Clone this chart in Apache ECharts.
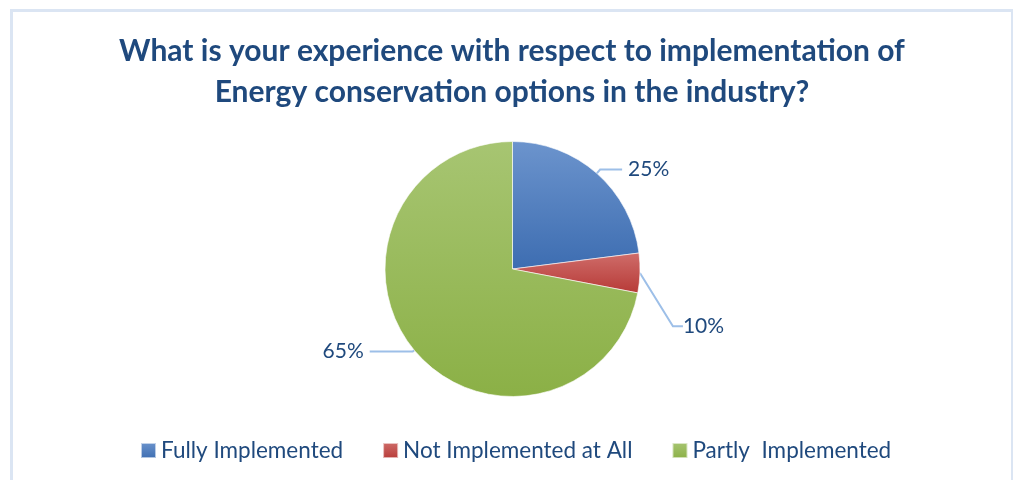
<!DOCTYPE html>
<html>
<head>
<meta charset="utf-8">
<script src="https://cdn.jsdelivr.net/npm/echarts@6/dist/echarts.min.js"></script>
<style>
  html, body { margin: 0; padding: 0; background: #fff; }
  #chart { width: 1013px; height: 480px; position: absolute; left: 0; top: 0; }
  #frame { position: absolute; left: 10px; top: 9px; width: 998px; height: 500px;
           border: 3px solid #dbe5f3; pointer-events: none; }
</style>
</head>
<body>
<div id="chart"></div>
<div id="frame"></div>
<script>

// answers and their share of the pie
var categories = ['Fully Implemented', 'Not Implemented at All', 'Partly  Implemented'];
var values = [23, 5, 72];
// the labels printed next to the slices
var labelTexts = ['25%', '10%', '65%'];

var sliceColors = [
    ['#6c94cd', '#3d6db1'],
    ['#cf6d6a', '#b73a37'],
    ['#a7c572', '#8bb046']
];

var textColor = '#1f497d';

function grad(pair) {
    return new echarts.graphic.LinearGradient(0, 0, 0, 1, [
        { offset: 0, color: pair[0] },
        { offset: 1, color: pair[1] }
    ]);
}

// per slice leader line lengths
var lineLen = [[5, 22], [8, 10], [2, 43]];

var myChart = echarts.init(document.getElementById('chart'));

var pieData = categories.map(function (name, i) {
    return {
        name: name,
        value: values[i],
        itemStyle: { color: grad(sliceColors[i]) },
        labelLine: { length: lineLen[i][0], length2: lineLen[i][1] }
    };
});

var option = {
    backgroundColor: '#ffffff',
    animation: false,
    title: {
        text: 'What is your experience with respect to implementation of\nEnergy conservation options in the industry?',
        left: 507,
        textAlign: 'center',
        top: 26,
        textStyle: {
            fontFamily: 'Lato',
            fontWeight: 'bold',
            fontSize: 30,
            lineHeight: 41,
            color: textColor
        }
    },
    legend: {
        data: categories,
        left: 135,
        top: 434,
        itemWidth: 15,
        itemHeight: 15,
        itemGap: 39,
        icon: 'rect',
        textStyle: {
            fontFamily: 'Lato',
            fontSize: 22.5,
            lineHeight: 22,
            color: textColor
        }
    },
    series: [
        {
            type: 'pie',
            center: [512.5, 269],
            radius: 127.5,
            startAngle: 90,
            clockwise: true,
            data: pieData,
            itemStyle: {
                borderColor: 'rgba(255,255,255,0.6)',
                borderWidth: 1
            },
            label: {
                show: true,
                formatter: function (p) { return labelTexts[p.dataIndex]; },
                fontFamily: 'Lato',
                fontSize: 21,
                color: textColor,
                distanceToLabelLine: 6
            },
            labelLine: {
                show: true,
                smooth: false,
                lineStyle: { color: '#9dbfe8', width: 2 }
            },
            labelLayout: function (params) {
                // the small slice has its label pushed down and to the right
                if (params.dataIndex === 1) {
                    var r = params.labelRect;
                    return { x: r.x + 19, y: r.y + r.height / 2 + 53 };
                }
                return {};
            },
            emphasis: { disabled: true }
        }
    ]
};

myChart.setOption(option);

</script>
</body>
</html>
